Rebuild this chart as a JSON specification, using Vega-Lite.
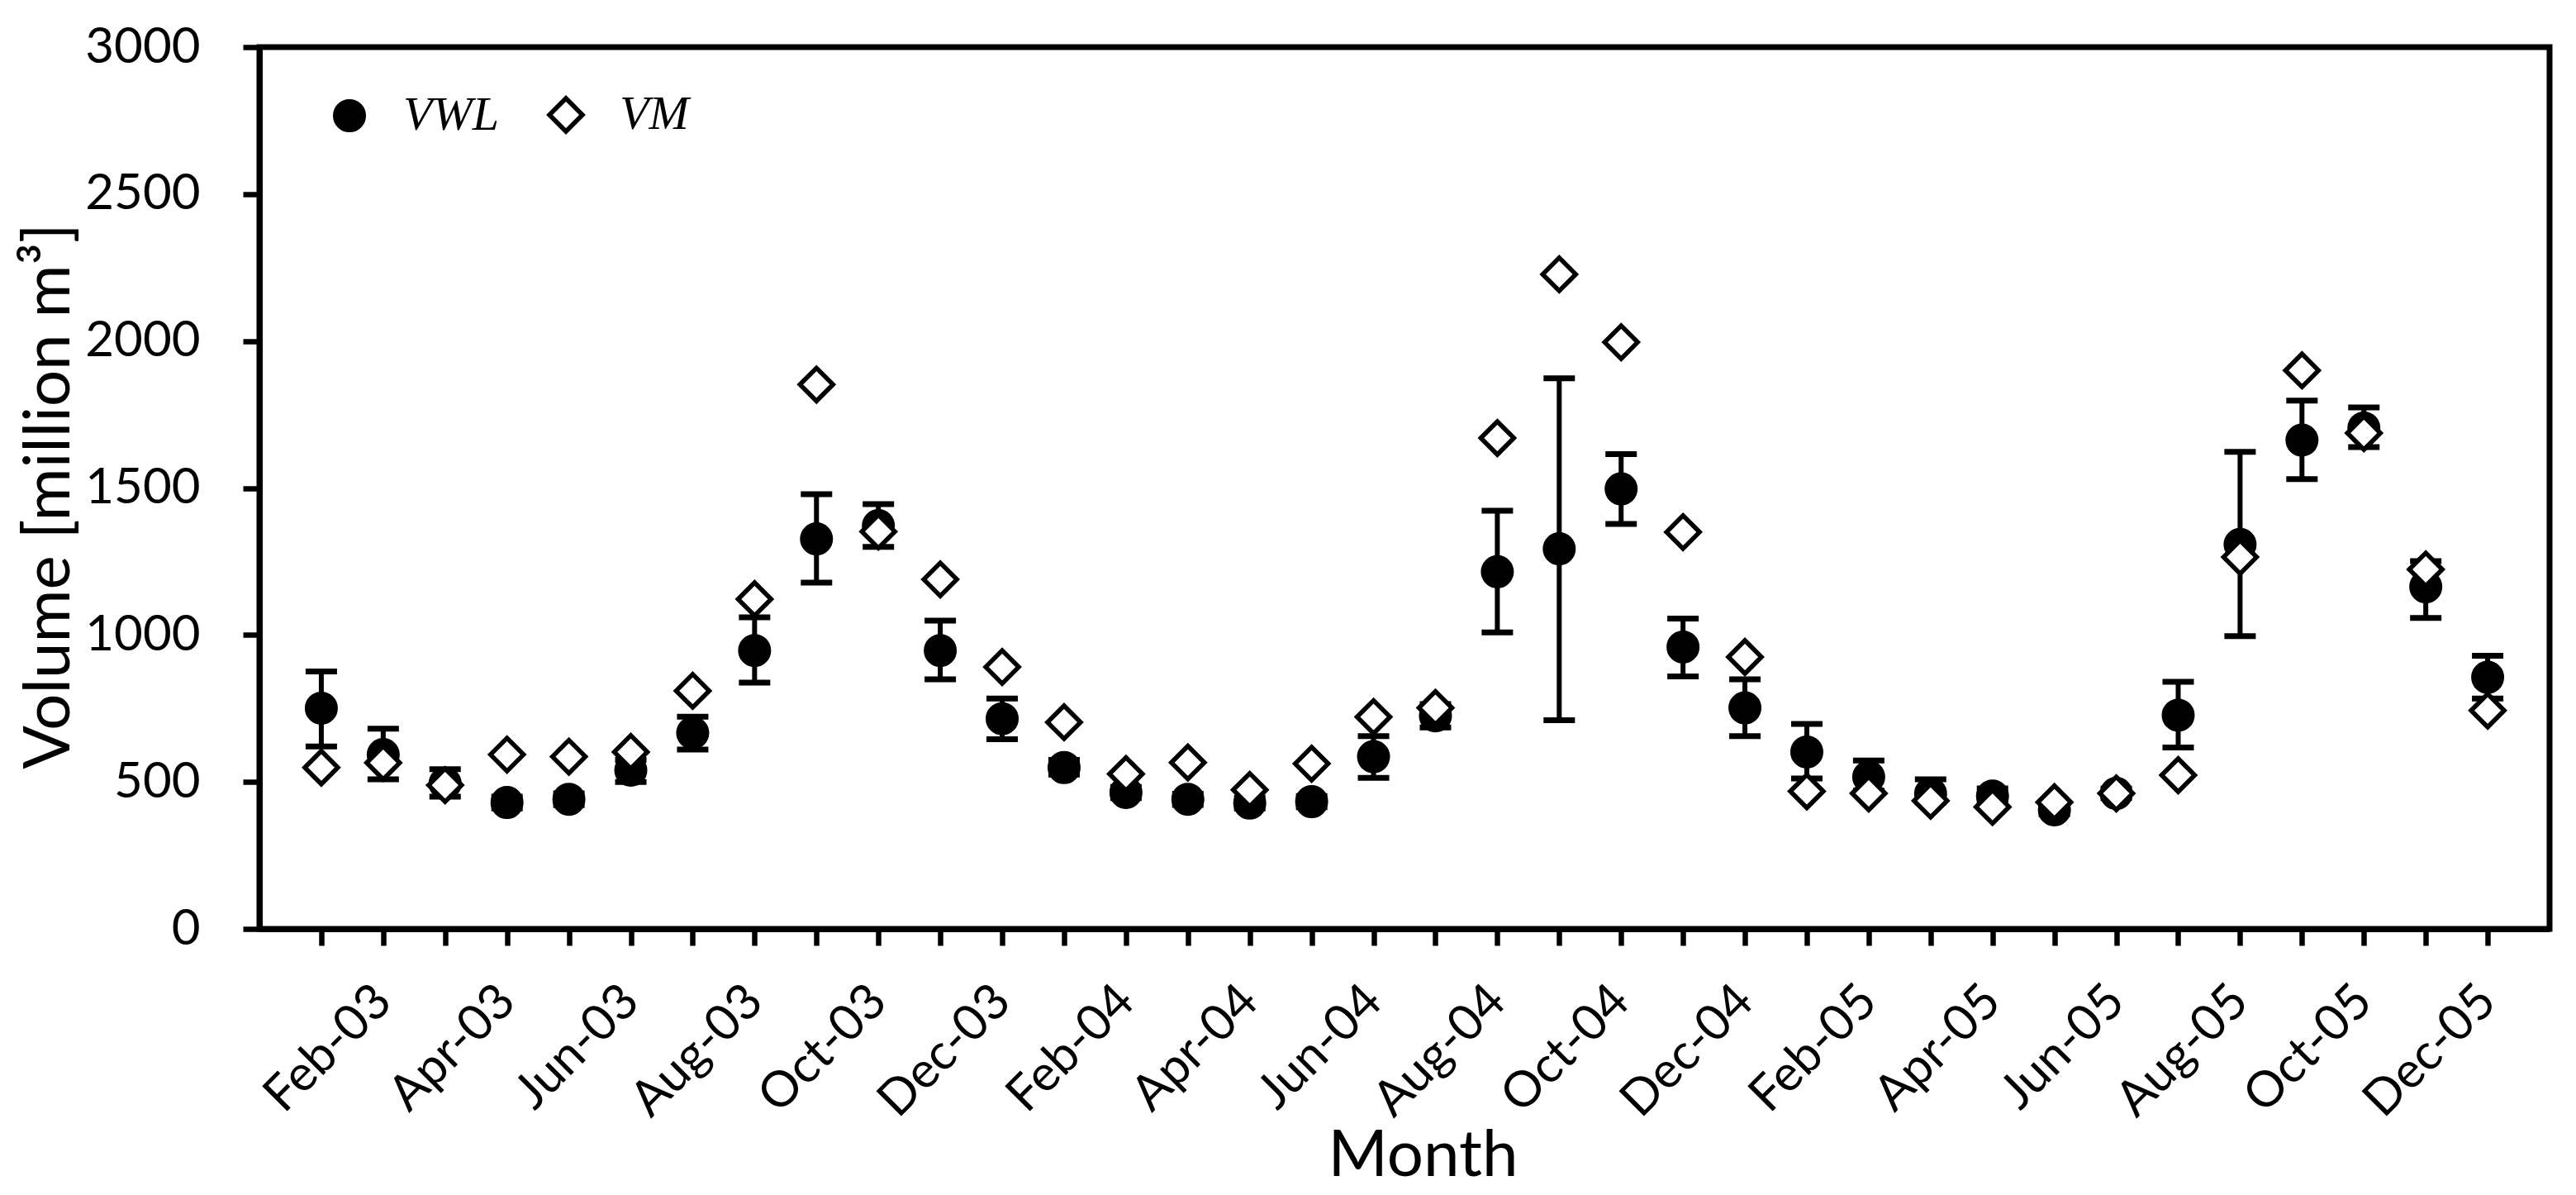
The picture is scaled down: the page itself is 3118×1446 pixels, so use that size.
{
  "$schema": "https://vega.github.io/schema/vega-lite/v6.json",
  "width": 2772,
  "height": 1067,
  "autosize": {"type": "none"},
  "padding": {"left": 314, "top": 57, "right": 32, "bottom": 322},
  "background": "white",
  "config": {
    "view": {"stroke": "black", "strokeWidth": 7},
    "font": "Lato",
    "axis": {
      "domain": true,
      "domainColor": "black",
      "domainWidth": 7,
      "grid": false,
      "ticks": true,
      "tickColor": "black",
      "tickOpacity": 1,
      "tickWidth": 6.5,
      "tickSize": 20,
      "labelFont": "Lato",
      "labelFontSize": 60,
      "labelColor": "black",
      "labelLimit": 0,
      "titleFont": "Lato",
      "titleFontSize": 78,
      "titleFontWeight": "normal",
      "titleColor": "black"
    },
    "axisY": {"labelPadding": 52, "titleX": -254, "titleY": 543, "titleBaseline": "middle", "titleAlign": "center", "titleAngle": 270},
    "axisX": {"labelAngle": -45, "labelAlign": "right", "labelBaseline": "middle", "labelPadding": 58, "labelOverlap": false, "titleX": 1408, "titleY": 298, "titleBaseline": "alphabetic", "titleAlign": "center"},
    "legend": {
      "orient": "none", "legendX": 80, "legendY": 53, "direction": "horizontal",
      "labelFont": "Liberation Serif", "labelFontStyle": "italic", "labelFontSize": 58, "labelColor": "black",
      "labelOffset": 36, "columnPadding": 50, "padding": 0,
      "symbolStrokeColor": "black", "symbolStrokeWidth": 5.5
    }
  },
  "data": {
    "values": [
      {"month": "Jan-03", "series": "VWL", "value": 751, "lo": 621, "hi": 876},
      {"month": "Feb-03", "series": "VWL", "value": 593, "lo": 509, "hi": 681},
      {"month": "Mar-03", "series": "VWL", "value": 495, "lo": 450, "hi": 543},
      {"month": "Apr-03", "series": "VWL", "value": 430, "lo": 410, "hi": 450},
      {"month": "May-03", "series": "VWL", "value": 441, "lo": 421, "hi": 461},
      {"month": "Jun-03", "series": "VWL", "value": 540, "lo": 500, "hi": 575},
      {"month": "Jul-03", "series": "VWL", "value": 667, "lo": 610, "hi": 722},
      {"month": "Aug-03", "series": "VWL", "value": 947, "lo": 838, "hi": 1060},
      {"month": "Sep-03", "series": "VWL", "value": 1327, "lo": 1178, "hi": 1479},
      {"month": "Oct-03", "series": "VWL", "value": 1372, "lo": 1300, "hi": 1445},
      {"month": "Nov-03", "series": "VWL", "value": 947, "lo": 849, "hi": 1049},
      {"month": "Dec-03", "series": "VWL", "value": 715, "lo": 645, "hi": 784},
      {"month": "Jan-04", "series": "VWL", "value": 549, "lo": 525, "hi": 575},
      {"month": "Feb-04", "series": "VWL", "value": 464, "lo": 445, "hi": 483},
      {"month": "Mar-04", "series": "VWL", "value": 441, "lo": 422, "hi": 460},
      {"month": "Apr-04", "series": "VWL", "value": 428, "lo": 410, "hi": 446},
      {"month": "May-04", "series": "VWL", "value": 433, "lo": 414, "hi": 452},
      {"month": "Jun-04", "series": "VWL", "value": 586, "lo": 514, "hi": 656},
      {"month": "Jul-04", "series": "VWL", "value": 725, "lo": 685, "hi": 765},
      {"month": "Aug-04", "series": "VWL", "value": 1215, "lo": 1009, "hi": 1423},
      {"month": "Sep-04", "series": "VWL", "value": 1293, "lo": 710, "hi": 1873},
      {"month": "Oct-04", "series": "VWL", "value": 1497, "lo": 1378, "hi": 1615},
      {"month": "Nov-04", "series": "VWL", "value": 959, "lo": 859, "hi": 1056},
      {"month": "Dec-04", "series": "VWL", "value": 752, "lo": 656, "hi": 849},
      {"month": "Jan-05", "series": "VWL", "value": 602, "lo": 512, "hi": 697},
      {"month": "Feb-05", "series": "VWL", "value": 517, "lo": 470, "hi": 573},
      {"month": "Mar-05", "series": "VWL", "value": 460, "lo": 430, "hi": 509},
      {"month": "Apr-05", "series": "VWL", "value": 452, "lo": 430, "hi": 478},
      {"month": "May-05", "series": "VWL", "value": 405, "lo": 390, "hi": 420},
      {"month": "Jun-05", "series": "VWL", "value": 461, "lo": 445, "hi": 477},
      {"month": "Jul-05", "series": "VWL", "value": 727, "lo": 617, "hi": 841},
      {"month": "Aug-05", "series": "VWL", "value": 1308, "lo": 996, "hi": 1623},
      {"month": "Sep-05", "series": "VWL", "value": 1663, "lo": 1530, "hi": 1797},
      {"month": "Oct-05", "series": "VWL", "value": 1704, "lo": 1639, "hi": 1774},
      {"month": "Nov-05", "series": "VWL", "value": 1164, "lo": 1058, "hi": 1251},
      {"month": "Dec-05", "series": "VWL", "value": 856, "lo": 784, "hi": 929},
      {"month": "Jan-03", "series": "VM", "value": 549},
      {"month": "Feb-03", "series": "VM", "value": 565},
      {"month": "Mar-03", "series": "VM", "value": 489},
      {"month": "Apr-03", "series": "VM", "value": 593},
      {"month": "May-03", "series": "VM", "value": 586},
      {"month": "Jun-03", "series": "VM", "value": 602},
      {"month": "Jul-03", "series": "VM", "value": 810},
      {"month": "Aug-03", "series": "VM", "value": 1122},
      {"month": "Sep-03", "series": "VM", "value": 1852},
      {"month": "Oct-03", "series": "VM", "value": 1352},
      {"month": "Nov-03", "series": "VM", "value": 1189},
      {"month": "Dec-03", "series": "VM", "value": 891},
      {"month": "Jan-04", "series": "VM", "value": 703},
      {"month": "Feb-04", "series": "VM", "value": 527},
      {"month": "Mar-04", "series": "VM", "value": 566},
      {"month": "Apr-04", "series": "VM", "value": 473},
      {"month": "May-04", "series": "VM", "value": 562},
      {"month": "Jun-04", "series": "VM", "value": 721},
      {"month": "Jul-04", "series": "VM", "value": 752},
      {"month": "Aug-04", "series": "VM", "value": 1670},
      {"month": "Sep-04", "series": "VM", "value": 2227},
      {"month": "Oct-04", "series": "VM", "value": 1996},
      {"month": "Nov-04", "series": "VM", "value": 1350},
      {"month": "Dec-04", "series": "VM", "value": 925},
      {"month": "Jan-05", "series": "VM", "value": 468},
      {"month": "Feb-05", "series": "VM", "value": 461},
      {"month": "Mar-05", "series": "VM", "value": 436},
      {"month": "Apr-05", "series": "VM", "value": 415},
      {"month": "May-05", "series": "VM", "value": 431},
      {"month": "Jun-05", "series": "VM", "value": 461},
      {"month": "Jul-05", "series": "VM", "value": 523},
      {"month": "Aug-05", "series": "VM", "value": 1265},
      {"month": "Sep-05", "series": "VM", "value": 1900},
      {"month": "Oct-05", "series": "VM", "value": 1687},
      {"month": "Nov-05", "series": "VM", "value": 1223},
      {"month": "Dec-05", "series": "VM", "value": 743}
    ]
  },
  "encoding": {
    "x": {
      "field": "month",
      "type": "ordinal",
      "sort": null,
      "scale": {"type": "point", "padding": 1},
      "title": "Month",
      "axis": {
        "labelExpr": "indexof(['Feb','Apr','Jun','Aug','Oct','Dec'], slice(datum.label, 0, 3)) >= 0 ? datum.label : ''"
      }
    }
  },
  "layer": [
    {
      "transform": [{"filter": "datum.series === 'VWL'"}],
      "mark": {"type": "rule", "strokeWidth": 6, "color": "black", "opacity": 1},
      "encoding": {
        "y": {"field": "lo", "type": "quantitative", "scale": {"domain": [0, 3000], "nice": false}, "title": "Volume [million m³]", "axis": {"values": [0, 500, 1000, 1500, 2000, 2500, 3000], "format": "d"}},
        "y2": {"field": "hi"}
      }
    },
    {
      "transform": [{"filter": "datum.series === 'VWL'"}],
      "mark": {"type": "tick", "orient": "horizontal", "size": 38, "thickness": 7, "color": "black", "opacity": 1},
      "encoding": {
        "y": {"field": "lo", "type": "quantitative", "scale": {"domain": [0, 3000], "nice": false}, "title": "Volume [million m³]", "axis": {"values": [0, 500, 1000, 1500, 2000, 2500, 3000], "format": "d"}}
      }
    },
    {
      "transform": [{"filter": "datum.series === 'VWL'"}],
      "mark": {"type": "tick", "orient": "horizontal", "size": 38, "thickness": 7, "color": "black", "opacity": 1},
      "encoding": {
        "y": {"field": "hi", "type": "quantitative", "scale": {"domain": [0, 3000], "nice": false}, "title": "Volume [million m³]", "axis": {"values": [0, 500, 1000, 1500, 2000, 2500, 3000], "format": "d"}}
      }
    },
    {
      "mark": {"type": "point", "filled": true, "strokeWidth": 5.5, "opacity": 1},
      "encoding": {
        "y": {"field": "value", "type": "quantitative", "scale": {"domain": [0, 3000], "nice": false}, "title": "Volume [million m³]", "axis": {"values": [0, 500, 1000, 1500, 2000, 2500, 3000], "format": "d"}},
        "shape": {"field": "series", "type": "nominal", "scale": {"domain": ["VWL", "VM"], "range": ["circle", "diamond"]}, "title": null},
        "fill": {"field": "series", "type": "nominal", "scale": {"domain": ["VWL", "VM"], "range": ["black", "white"]}, "title": null},
        "stroke": {"field": "series", "type": "nominal", "scale": {"domain": ["VWL", "VM"], "range": ["black", "black"]}, "title": null},
        "size": {"field": "series", "type": "nominal", "scale": {"domain": ["VWL", "VM"], "range": [1190, 1600]}, "title": null}
      }
    }
  ]
}
